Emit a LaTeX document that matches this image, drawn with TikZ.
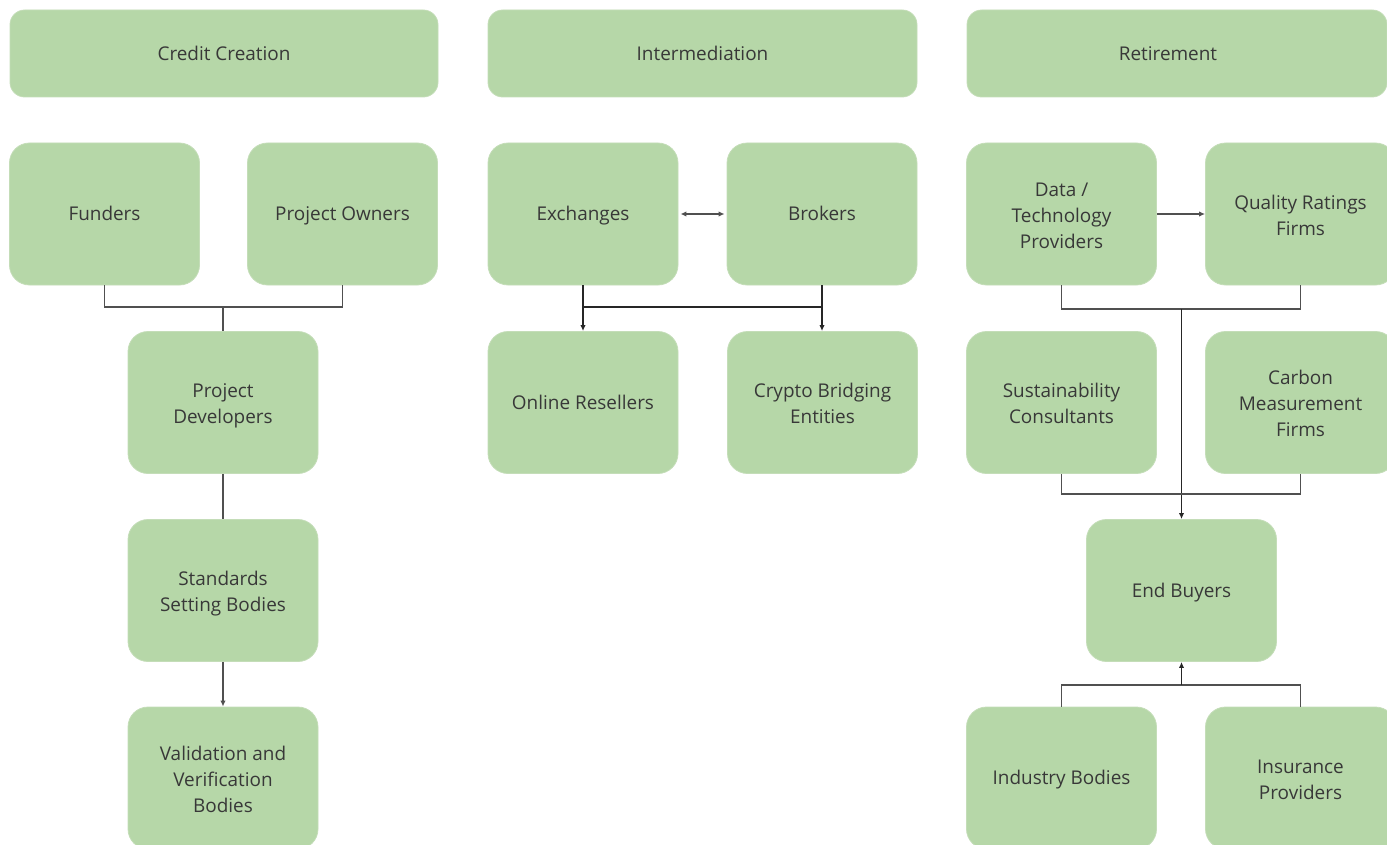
\documentclass[tikz,border=0pt]{standalone}
\usepackage{fontspec}
\setmainfont{Open Sans}
\usetikzlibrary{arrows.meta}
\definecolor{boxgreen}{HTML}{B6D7A8}
\definecolor{boxedge}{HTML}{C4DDB8}
\definecolor{txtgray}{HTML}{383838}
\definecolor{linegray}{HTML}{505050}
\newcommand{\firstline}{\rule{0pt}{18.4pt}}
\tikzset{
  box/.style={rounded corners=15pt, fill=boxgreen, draw=boxedge, line width=0.6pt,
    minimum width=142.5pt, minimum height=106.5pt, align=center, text=txtgray,
    font=\fontsize{14.2}{19.5}\selectfont, inner sep=0pt,
    execute at begin node={\rule{0pt}{16.3pt}}, execute at end node=\strut},
  header/.style={box, minimum height=65.25pt, rounded corners=11pt},
  conn/.style={draw=linegray, line width=0.9pt},
  bold/.style={draw=black!85, line width=1.3pt},
  tip/.style={-{Latex[length=4.5pt,width=4pt]}},
}
\begin{document}
\begin{tikzpicture}[x=0.75pt,y=-0.75pt]
\useasboundingbox (0,0) rectangle (1387,845);
\clip (0,0) rectangle (1387,845);
% headers
\node[header, minimum width=321pt] (cc) at (224,53.5) {Credit Creation};
\node[header, minimum width=321.75pt] (im) at (702.5,53.5) {Intermediation};
\node[header, minimum width=315pt] (ret) at (1177,53.5) {Retirement\hspace*{13.5pt}};
% row 1
\node[box] (funders) at (104.5,214) {Funders};
\node[box] (owners) at (342.5,214) {Project Owners};
\node[box] (exch) at (583,214) {Exchanges};
\node[box] (brok) at (822,214) {Brokers};
\node[box] (data) at (1061.5,214) {\firstline Data /\\Technology\\Providers};
\node[box] (qual) at (1300.5,214) {\firstline Quality Ratings\\Firms};
% row 2
\node[box] (dev) at (223,402.5) {\firstline Project\\Developers};
\node[box] (online) at (583,402.5) {Online Resellers};
\node[box] (crypto) at (822.5,402.5) {\firstline Crypto Bridging\\Entities};
\node[box] (sust) at (1061.5,402.5) {\firstline Sustainability\\Consultants};
\node[box] (carbon) at (1300.5,402.5) {\firstline Carbon\\Measurement\\Firms};
% row 3
\node[box] (std) at (223,590.5) {\firstline Standards\\Setting Bodies};
\node[box] (end) at (1181.5,590.5) {End Buyers};
% row 4
\node[box] (val) at (223,778) {\firstline Validation and\\Verification\\Bodies};
\node[box] (ind) at (1061.5,778) {Industry Bodies};
\node[box] (ins) at (1300.5,778) {\firstline Insurance\\Providers};
% junctions
\coordinate (j1) at (223,307);
\coordinate (j2) at (583,307);
\coordinate (j3) at (1181.5,309);
\coordinate (j4) at (1181.5,494);
\coordinate (j5) at (1181.5,685);
% credit creation
\draw[conn] (funders.south) |- (j1) -| (owners.south);
\draw[conn] (j1) -- (dev.north);
\draw[conn] (dev.south) -- (std.north);
\draw[conn, tip] (std.south) -- (val.north);
% intermediation
\draw[conn, {Latex[length=4.5pt,width=4pt]}-{Latex[length=4.5pt,width=4pt]}, shorten <=1.5pt, shorten >=1.5pt] (exch.east) -- (brok.west);
\draw[bold, tip] (exch.south) -- (online.north);
\draw[bold, tip] (brok.south) -- (brok.south |- crypto.north);
\draw[bold] (j2) -- (brok.south |- j2);
% retirement
\draw[conn, tip] (data.east) -- (qual.west);
\draw[conn] (data.south) |- (j3) -| (qual.south);
\draw[bold, tip] (j3) -- (end.north);
\draw[conn] (sust.south) |- (j4) -| (carbon.south);
\draw[conn] (ind.north) |- (j5) -| (ins.north);
\draw[bold, tip] (j5) -- (end.south);
\end{tikzpicture}
\end{document}
